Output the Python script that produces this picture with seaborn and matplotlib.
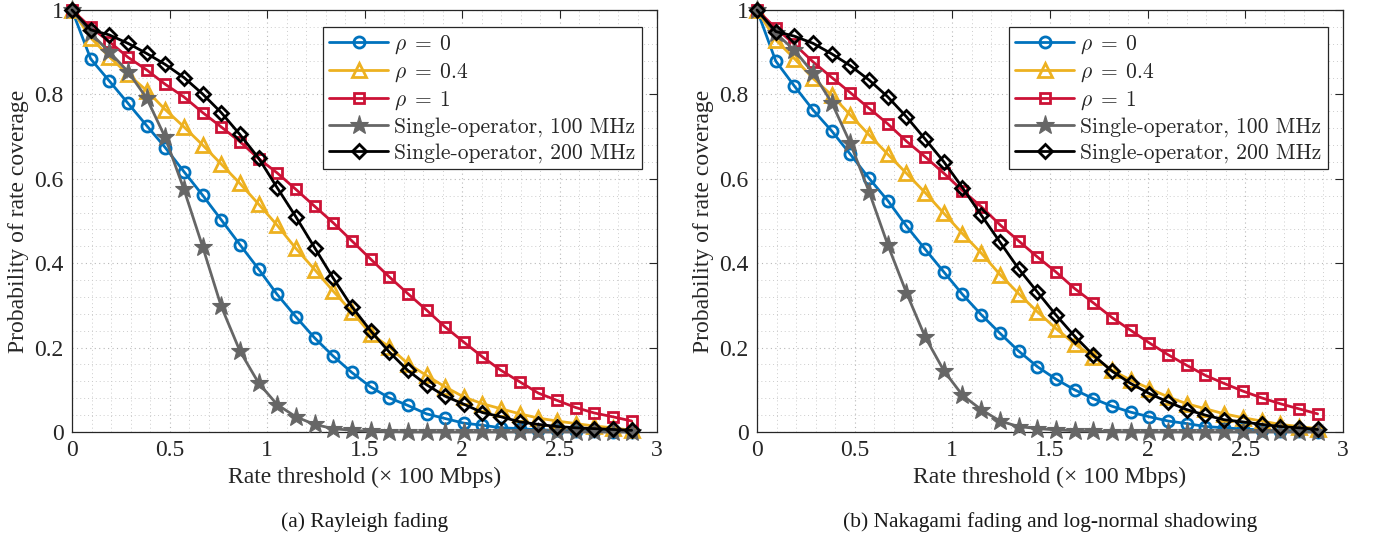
import numpy as np
import pandas as pd
import matplotlib
matplotlib.use("Agg")
import matplotlib.pyplot as plt
import seaborn as sns
from matplotlib.ticker import MultipleLocator, FormatStrFormatter

# ---------------- data ----------------
rate = [0.0, 0.096, 0.191, 0.287, 0.383, 0.478, 0.574, 0.670, 0.765, 0.861,
        0.957, 1.052, 1.148, 1.244, 1.339, 1.435, 1.531, 1.626, 1.722, 1.818,
        1.913, 2.009, 2.105, 2.200, 2.296, 2.392, 2.487, 2.583, 2.679, 2.774, 2.870]

# (a) Rayleigh fading
a_rho0 = [1.0, 0.884, 0.832, 0.779, 0.726, 0.674, 0.617, 0.561, 0.503, 0.444,
          0.386, 0.326, 0.273, 0.223, 0.180, 0.141, 0.107, 0.081, 0.063, 0.043,
          0.032, 0.021, 0.016, 0.010, 0.008, 0.005, 0.004, 0.003, 0.002, 0.001, 0.001]
a_rho04 = [1.0, 0.934, 0.889, 0.848, 0.809, 0.764, 0.723, 0.680, 0.635, 0.589,
           0.540, 0.490, 0.435, 0.385, 0.334, 0.285, 0.233, 0.202, 0.162, 0.134,
           0.107, 0.083, 0.067, 0.055, 0.043, 0.033, 0.026, 0.020, 0.014, 0.010, 0.004]
a_rho1 = [1.0, 0.959, 0.925, 0.888, 0.858, 0.824, 0.794, 0.757, 0.723, 0.688,
          0.648, 0.614, 0.575, 0.535, 0.496, 0.453, 0.410, 0.368, 0.328, 0.289,
          0.249, 0.213, 0.178, 0.146, 0.119, 0.092, 0.075, 0.058, 0.045, 0.036, 0.026]
a_single100 = [1.0, 0.945, 0.901, 0.854, 0.791, 0.698, 0.575, 0.439, 0.298, 0.192,
               0.116, 0.065, 0.036, 0.018, 0.008, 0.004, 0.002, 0.001, 0.0, 0.0,
               0.0, 0.0, 0.0, 0.0, 0.0, 0.0, 0.0, 0.0, 0.0, 0.0, 0.0]
a_single200 = [1.0, 0.953, 0.941, 0.921, 0.897, 0.871, 0.840, 0.801, 0.757, 0.705,
               0.649, 0.579, 0.510, 0.437, 0.365, 0.297, 0.240, 0.190, 0.146, 0.112,
               0.085, 0.066, 0.046, 0.036, 0.024, 0.018, 0.013, 0.010, 0.008, 0.006, 0.004]

# (b) Nakagami fading and log-normal shadowing
b_rho0 = [1.0, 0.879, 0.820, 0.763, 0.713, 0.658, 0.601, 0.548, 0.488, 0.433,
          0.379, 0.326, 0.278, 0.234, 0.192, 0.155, 0.125, 0.100, 0.079, 0.061,
          0.047, 0.036, 0.026, 0.020, 0.013, 0.010, 0.007, 0.005, 0.003, 0.002, 0.001]
b_rho04 = [1.0, 0.929, 0.885, 0.838, 0.798, 0.751, 0.704, 0.658, 0.613, 0.567,
           0.518, 0.470, 0.424, 0.373, 0.328, 0.285, 0.245, 0.209, 0.178, 0.146,
           0.123, 0.103, 0.083, 0.067, 0.055, 0.043, 0.034, 0.026, 0.018, 0.013, 0.008]
b_rho1 = [1.0, 0.957, 0.919, 0.877, 0.840, 0.804, 0.767, 0.730, 0.689, 0.652,
          0.613, 0.572, 0.534, 0.491, 0.453, 0.415, 0.379, 0.340, 0.306, 0.271,
          0.241, 0.211, 0.183, 0.158, 0.134, 0.115, 0.097, 0.081, 0.067, 0.055, 0.043]
b_single100 = [1.0, 0.945, 0.905, 0.851, 0.780, 0.684, 0.569, 0.443, 0.330, 0.225,
               0.145, 0.087, 0.053, 0.026, 0.013, 0.008, 0.005, 0.003, 0.002, 0.001,
               0.0, 0.0, 0.0, 0.0, 0.0, 0.0, 0.0, 0.0, 0.0, 0.0, 0.0]
b_single200 = [1.0, 0.949, 0.938, 0.921, 0.896, 0.868, 0.834, 0.794, 0.747, 0.694,
               0.640, 0.579, 0.514, 0.450, 0.387, 0.332, 0.277, 0.227, 0.182, 0.144,
               0.115, 0.091, 0.071, 0.053, 0.040, 0.029, 0.024, 0.018, 0.013, 0.010, 0.006]

labels = [r"$\rho\;=\;0$", r"$\rho\;=\;0.4$", r"$\rho\;=\;1$",
          "Single-operator, 100 MHz", "Single-operator, 200 MHz"]
captions = ["(a) Rayleigh fading", "(b) Nakagami fading and log-normal shadowing"]
xticks = [0, 0.5, 1, 1.5, 2, 2.5, 3]
yticks = [0, 0.2, 0.4, 0.6, 0.8, 1]

# ---------------- style ----------------
sns.set_theme(style="white")
plt.rcParams["font.family"] = ["Liberation Serif", "DejaVu Serif"]
plt.rcParams["mathtext.fontset"] = "cm"

colors = ["#0072BD", "#EDB120", "#CC1236", "#666666", "#000000"]
markers = ["o", "^", "s", "*", "D"]
msizes = [8, 9.5, 7, 14, 7.5]
filled = [False, False, False, True, False]

fig = plt.figure(figsize=(13.75, 5.46), dpi=100)
ax_pos = [[72 / 1375, 114 / 546, 585 / 1375, 422 / 546],
          [757 / 1375, 114 / 546, 586 / 1375, 422 / 546]]

panels = [[a_rho0, a_rho04, a_rho1, a_single100, a_single200],
          [b_rho0, b_rho04, b_rho1, b_single100, b_single200]]

for p, series in enumerate(panels):
    ax = fig.add_axes(ax_pos[p])
    for i, ys in enumerate(series):
        sns.lineplot(x=rate, y=ys, ax=ax, color=colors[i], marker=markers[i],
                     markersize=msizes[i], linewidth=2.0, label=labels[i],
                     markeredgecolor=colors[i], markeredgewidth=2.0 if not filled[i] else 0.8,
                     markerfacecolor=(colors[i] if filled[i] else "none"),
                     zorder=3 + i, clip_on=False)
    ax.set_xlim(0, 3)
    ax.set_ylim(0, 1)
    ax.set_xticks(xticks)
    ax.set_yticks(yticks)
    ax.xaxis.set_major_formatter(FormatStrFormatter("%g"))
    ax.yaxis.set_major_formatter(FormatStrFormatter("%g"))
    ax.xaxis.set_minor_locator(MultipleLocator(0.1))
    ax.yaxis.set_minor_locator(MultipleLocator(0.04))
    ax.grid(True, which="major", linestyle=(0, (1, 3)), color="#b8b8b8", linewidth=0.8)
    ax.grid(True, which="minor", linestyle=(0, (1, 3)), color="#cccccc", linewidth=0.7)
    ax.tick_params(axis="both", which="major", direction="in", length=6, width=0.8,
                   top=True, right=True, labelsize=17, colors="#262626", pad=6)
    ax.tick_params(axis="both", which="minor", length=0, top=False, right=False)
    for sp in ax.spines.values():
        sp.set_color("#262626")
        sp.set_linewidth(0.9)
    for t in ax.get_xticklabels() + ax.get_yticklabels():
        t.set_color("#262626")
    ax.set_xlabel("Rate threshold (\u00d7 100 Mbps)", fontsize=17, color="#262626", labelpad=4)
    ax.set_ylabel("Probability of rate coverage", fontsize=17, color="#262626", labelpad=4)
    leg = ax.legend(loc="upper right", bbox_to_anchor=(0.985, 0.975),
                    prop={"family": "cmr10", "size": 15.5},
                    frameon=True, fancybox=False, framealpha=1, edgecolor="#262626",
                    handlelength=2.7, handletextpad=0.3, borderpad=0.3,
                    labelspacing=0.25, borderaxespad=0.3)
    leg.get_frame().set_linewidth(0.9)
    cx = ax_pos[p][0] + ax_pos[p][2] / 2
    fig.text(cx, 24 / 546, captions[p], ha="center", va="center", fontsize=15.5, color="#1a1a1a")

fig.savefig("out.png", dpi=100)
